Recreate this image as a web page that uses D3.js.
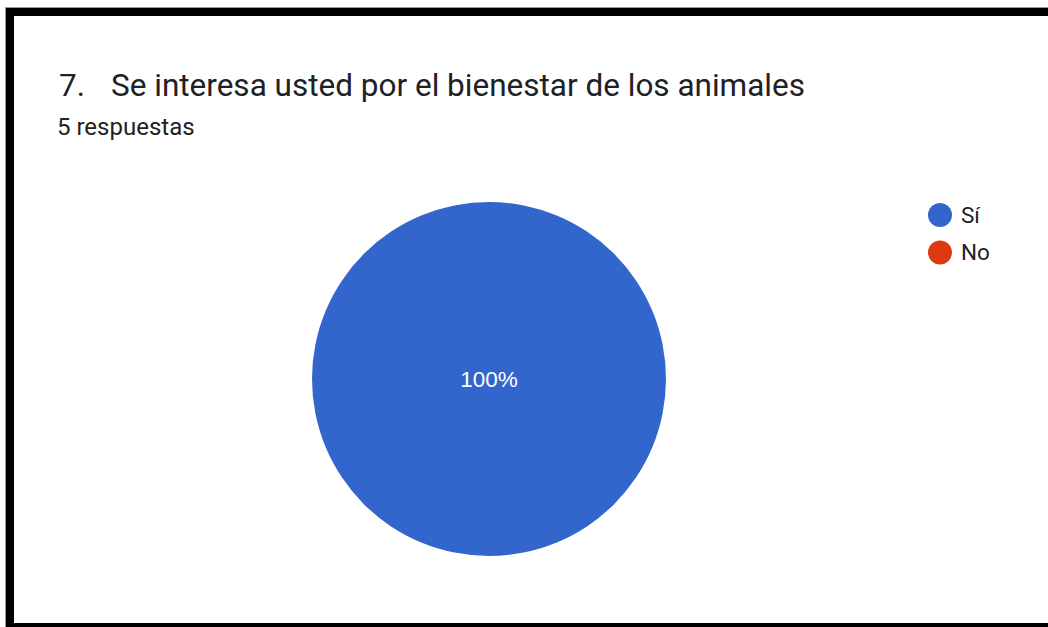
<!DOCTYPE html>
<html><head><meta charset="utf-8">
<script src="https://cdn.jsdelivr.net/npm/d3@7"></script>
<style>html,body{margin:0;padding:0;background:#fff;}svg{display:block;}</style>
</head><body>
<svg id="c" width="1048" height="627"></svg>
<script>
const categories = ["Sí", "No"];
const values = [5, 0];
const colors = ["#3366cc", "#dc3912"];
const titleNumber = "7.";
const title = "Se interesa usted por el bienestar de los animales";
const subtitle = "5 respuestas";

const svg = d3.select("#c");
const font = "Roboto, 'Noto Sans', Arial, sans-serif";
// frame
svg.append("rect").attr("x",0).attr("y",0).attr("width",1048).attr("height",627).attr("fill","#fff");
svg.append("rect").attr("x",5).attr("y",7).attr("width",1043).attr("height",1).attr("fill","#999");
svg.append("rect").attr("x",5).attr("y",7).attr("width",1).attr("height",620).attr("fill","#999");
svg.append("rect").attr("x",6).attr("y",8).attr("width",1042).attr("height",8).attr("fill","#000");
svg.append("rect").attr("x",6).attr("y",8).attr("width",8).attr("height",619).attr("fill","#000");
svg.append("rect").attr("x",6).attr("y",623).attr("width",1042).attr("height",4).attr("fill","#000");

svg.append("text").attr("x",59).attr("y",96).attr("font-family",font).attr("font-size",31.5)
  .attr("fill","#202124").text(titleNumber);
svg.append("text").attr("x",111).attr("y",96).attr("font-family",font).attr("font-size",31.5)
  .attr("fill","#202124").text(title);
svg.append("text").attr("x",57).attr("y",135).attr("font-family",font).attr("font-size",24)
  .attr("fill","#202124").text(subtitle);

const cx = 489, cy = 379, r = 177;
const pie = d3.pie().sort(null).value(d => d)(values);
const arc = d3.arc().innerRadius(0).outerRadius(r);
const total = d3.sum(values);
const color = d3.scaleOrdinal().domain(categories).range(colors);
const g = svg.append("g").attr("transform",`translate(${cx},${cy})`);
g.selectAll("path").data(pie).join("path")
  .attr("d", arc).attr("fill", (d,i) => color(categories[i]));
g.selectAll("text.lbl").data(pie.filter(d => d.value > 0)).join("text")
  .attr("class","lbl")
  .attr("transform", d => {
    const full = (d.endAngle - d.startAngle) >= 2*Math.PI - 1e-6;
    return full ? "translate(0,0)" : `translate(${d3.arc().innerRadius(r*0.6).outerRadius(r*0.6).centroid(d)})`;
  })
  .attr("dy","0.36em").attr("text-anchor","middle")
  .attr("font-family","Arial, 'Liberation Sans', sans-serif").attr("font-size",22.5).attr("fill","#fff")
  .text(d => Math.round(d.value/total*100) + "%");

const leg = svg.append("g").attr("transform","translate(940,215)");
const li = leg.selectAll("g").data(categories).join("g").attr("transform",(d,i)=>`translate(0,${i*37.5})`);
li.append("circle").attr("r",12).attr("fill", d => color(d));
li.append("text").attr("x",21).attr("y",7.5).attr("font-family",font).attr("font-size",22.5)
  .attr("fill","#202124").text(d => d);
</script>
</body></html>
